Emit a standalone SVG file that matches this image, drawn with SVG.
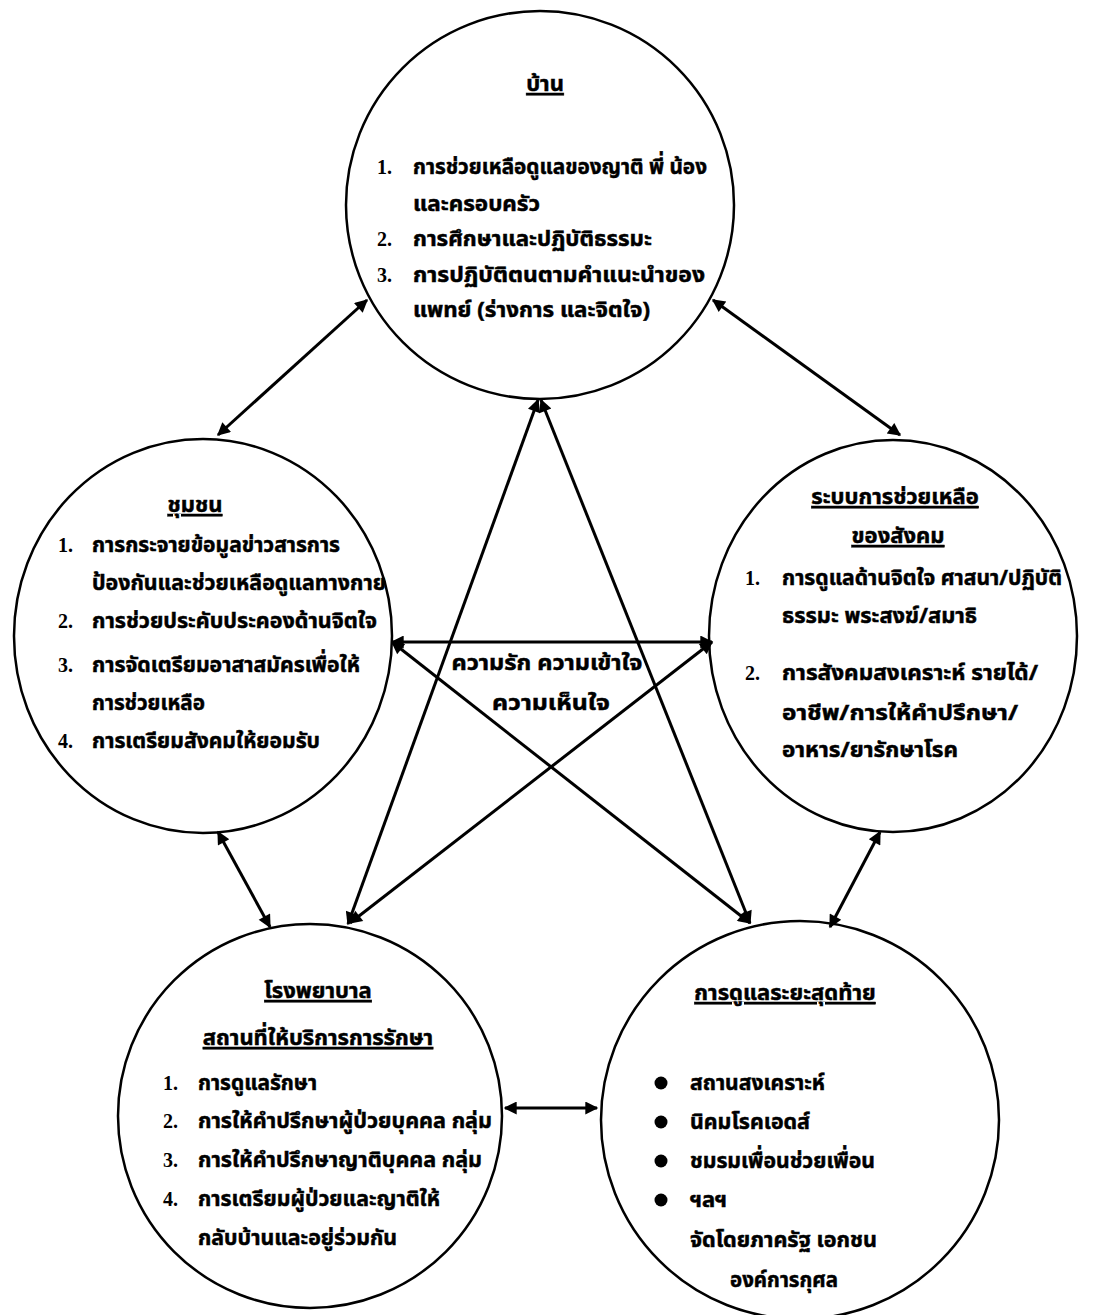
<svg xmlns="http://www.w3.org/2000/svg" width="1098" height="1315" viewBox="0 0 1098 1315">
<defs>
<style>
.bg{fill:#fff}
.node{fill:none;stroke:#000;stroke-width:2.5}
.t{font-family:"Noto Sans Thai","Noto Serif Thai","Loma","Garuda","Tlwg Typo",sans-serif;font-size:22px;font-weight:bold;fill:#000;stroke:#000;stroke-width:0.5}
.h{font-family:"Noto Sans Thai","Noto Serif Thai","Loma","Garuda",sans-serif;font-size:22px;font-weight:bold;fill:#000;stroke:#000;stroke-width:0.5;text-decoration:underline;text-anchor:middle}
.n{font-family:"Liberation Serif",serif;font-size:20px;font-weight:bold;fill:#000}
.c{text-anchor:middle}
.edge{fill:none;stroke:#000;stroke-width:3;marker-start:url(#ah);marker-end:url(#ah)}
.dot{fill:#000}
</style>
<marker id="ah" viewBox="0 0 10 10" refX="9" refY="5" markerWidth="16" markerHeight="13" markerUnits="userSpaceOnUse" orient="auto-start-reverse">
<path d="M0,0 L10,5 L0,10 z" fill="#000"/>
</marker>
</defs>
<rect class="bg" x="0" y="0" width="1098" height="1315"/>

<g id="connectors">
<line class="edge" x1="367" y1="300" x2="218" y2="435"/>
<line class="edge" x1="713" y1="300" x2="900" y2="435"/>
<line class="edge" x1="392" y1="642" x2="712" y2="642"/>
<line class="edge" x1="538" y1="400" x2="348" y2="924"/>
<line class="edge" x1="541" y1="400" x2="750" y2="923"/>
<line class="edge" x1="392" y1="642" x2="750" y2="923"/>
<line class="edge" x1="712" y1="642" x2="350" y2="923"/>
<line class="edge" x1="218" y1="832" x2="270" y2="927"/>
<line class="edge" x1="880" y1="832" x2="830" y2="927"/>
<line class="edge" x1="505" y1="1108" x2="597" y2="1108"/>
</g>

<g id="label-center">
<text class="t c" x="547" y="670" textLength="191" lengthAdjust="spacingAndGlyphs">ความรัก ความเข้าใจ</text>
<text class="t c" x="551" y="710" textLength="118" lengthAdjust="spacingAndGlyphs">ความเห็นใจ</text>
</g>

<g id="node-home">
<circle class="node" cx="540" cy="205" r="194"/>
<text class="h" x="545" y="91">บ้าน</text>
<text class="n" x="377" y="174">1.</text>
<text class="t" x="413" y="174" textLength="294" lengthAdjust="spacingAndGlyphs">การช่วยเหลือดูแลของญาติ พี่ น้อง</text>
<text class="t" x="413" y="211" textLength="127" lengthAdjust="spacingAndGlyphs">และครอบครัว</text>
<text class="n" x="377" y="246">2.</text>
<text class="t" x="413" y="246" textLength="239" lengthAdjust="spacingAndGlyphs">การศึกษาและปฏิบัติธรรมะ</text>
<text class="n" x="377" y="282">3.</text>
<text class="t" x="413" y="282" textLength="292" lengthAdjust="spacingAndGlyphs">การปฏิบัติตนตามคำแนะนำของ</text>
<text class="t" x="413" y="317" textLength="237" lengthAdjust="spacingAndGlyphs">แพทย์ (ร่างการ และจิตใจ)</text>
</g>

<g id="node-community">
<ellipse class="node" cx="203" cy="636" rx="189" ry="197"/>
<text class="h" x="195" y="512">ชุมชน</text>
<text class="n" x="58" y="552">1.</text>
<text class="t" x="92" y="552" textLength="248" lengthAdjust="spacingAndGlyphs">การกระจายข้อมูลข่าวสารการ</text>
<text class="t" x="92" y="590" textLength="294" lengthAdjust="spacingAndGlyphs">ป้องกันและช่วยเหลือดูแลทางกาย</text>
<text class="n" x="58" y="628">2.</text>
<text class="t" x="92" y="628" textLength="285" lengthAdjust="spacingAndGlyphs">การช่วยประคับประคองด้านจิตใจ</text>
<text class="n" x="58" y="672">3.</text>
<text class="t" x="92" y="672" textLength="268" lengthAdjust="spacingAndGlyphs">การจัดเตรียมอาสาสมัครเพื่อให้</text>
<text class="t" x="92" y="710" textLength="113" lengthAdjust="spacingAndGlyphs">การช่วยเหลือ</text>
<text class="n" x="58" y="748">4.</text>
<text class="t" x="92" y="748" textLength="228" lengthAdjust="spacingAndGlyphs">การเตรียมสังคมให้ยอมรับ</text>
</g>

<g id="node-social">
<ellipse class="node" cx="893" cy="636" rx="184" ry="196"/>
<text class="h" x="895" y="504">ระบบการช่วยเหลือ</text>
<text class="h" x="898" y="543">ของสังคม</text>
<text class="n" x="745" y="585">1.</text>
<text class="t" x="782" y="585" textLength="280" lengthAdjust="spacingAndGlyphs">การดูแลด้านจิตใจ ศาสนา/ปฏิบัติ</text>
<text class="t" x="782" y="623" textLength="195" lengthAdjust="spacingAndGlyphs">ธรรมะ พระสงฆ์/สมาธิ</text>
<text class="n" x="745" y="680">2.</text>
<text class="t" x="782" y="680" textLength="256" lengthAdjust="spacingAndGlyphs">การสังคมสงเคราะห์ รายได้/</text>
<text class="t" x="782" y="720" textLength="236" lengthAdjust="spacingAndGlyphs">อาชีพ/การให้คำปรึกษา/</text>
<text class="t" x="782" y="757" textLength="176" lengthAdjust="spacingAndGlyphs">อาหาร/ยารักษาโรค</text>
</g>

<g id="node-hospital">
<circle class="node" cx="310" cy="1116" r="192"/>
<text class="h" x="318" y="998">โรงพยาบาล</text>
<text class="h" x="318" y="1045">สถานที่ให้บริการการรักษา</text>
<text class="n" x="163" y="1090">1.</text>
<text class="t" x="198" y="1090" textLength="119" lengthAdjust="spacingAndGlyphs">การดูแลรักษา</text>
<text class="n" x="163" y="1128">2.</text>
<text class="t" x="198" y="1128" textLength="294" lengthAdjust="spacingAndGlyphs">การให้คำปรึกษาผู้ป่วยบุคคล กลุ่ม</text>
<text class="n" x="163" y="1167">3.</text>
<text class="t" x="198" y="1167" textLength="284" lengthAdjust="spacingAndGlyphs">การให้คำปรึกษาญาติบุคคล กลุ่ม</text>
<text class="n" x="163" y="1206">4.</text>
<text class="t" x="198" y="1206" textLength="242" lengthAdjust="spacingAndGlyphs">การเตรียมผู้ป่วยและญาติให้</text>
<text class="t" x="198" y="1245" textLength="199" lengthAdjust="spacingAndGlyphs">กลับบ้านและอยู่ร่วมกัน</text>
</g>

<g id="node-endoflife">
<circle class="node" cx="800" cy="1120" r="199"/>
<text class="h" x="785" y="1000">การดูแลระยะสุดท้าย</text>
<circle class="dot" cx="661" cy="1083" r="6.5"/>
<text class="t" x="690" y="1090" textLength="135" lengthAdjust="spacingAndGlyphs">สถานสงเคราะห์</text>
<circle class="dot" cx="661" cy="1122" r="6.5"/>
<text class="t" x="690" y="1129" textLength="120" lengthAdjust="spacingAndGlyphs">นิคมโรคเอดส์</text>
<circle class="dot" cx="661" cy="1161" r="6.5"/>
<text class="t" x="690" y="1168" textLength="185" lengthAdjust="spacingAndGlyphs">ชมรมเพื่อนช่วยเพื่อน</text>
<circle class="dot" cx="661" cy="1200" r="6.5"/>
<text class="t" x="690" y="1207" textLength="37" lengthAdjust="spacingAndGlyphs">ฯลฯ</text>
<text class="t" x="690" y="1247" textLength="187" lengthAdjust="spacingAndGlyphs">จัดโดยภาครัฐ เอกชน</text>
<text class="t" x="730" y="1287" textLength="108" lengthAdjust="spacingAndGlyphs">องค์การกุศล</text>
</g>
</svg>
